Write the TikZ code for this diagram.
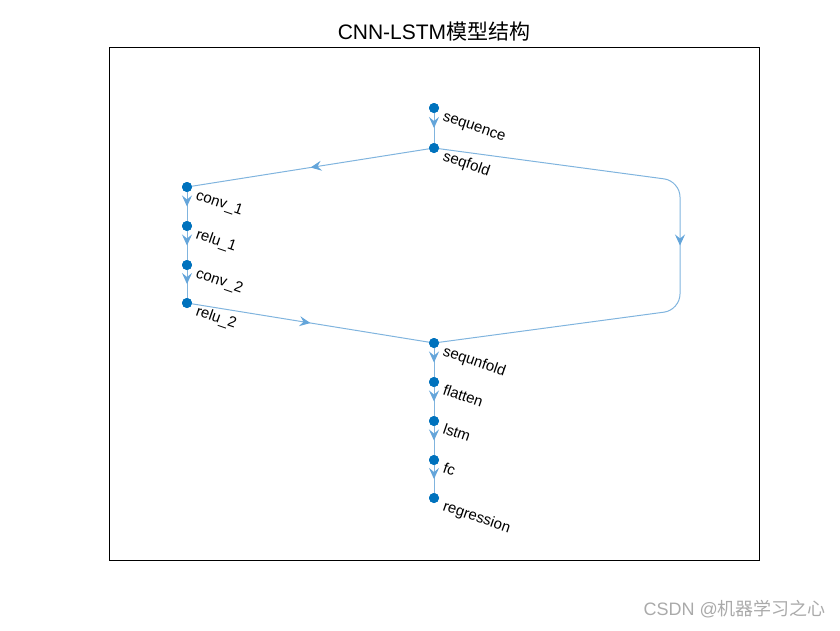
\documentclass[tikz,border=0pt]{standalone}
\usepackage{fontspec}
\setmainfont{Liberation Sans}
\newfontfamily\cjk{Noto Sans CJK SC}
\usepackage{xcolor}
\usetikzlibrary{arrows.meta, decorations.markings}
\definecolor{matblue}{RGB}{0, 114, 189}
\definecolor{edgeblue}{RGB}{128, 180, 222}
\definecolor{tipblue}{RGB}{100, 165, 218}
\definecolor{markgray}{RGB}{170, 170, 170}

\begin{document}
\begin{tikzpicture}[x=1pt, y=-1pt,
    layer/.style={circle, fill=matblue, inner sep=0pt, minimum size=10pt},
    tag/.style={anchor=base west, rotate=-19, inner sep=0pt, font=\fontsize{15}{15}\selectfont},
    flow/.style={draw=edgeblue, line width=1pt, postaction={decorate},
        decoration={markings, mark=at position 0.5 with {\arrow[tipblue]{Stealth[length=11pt, width=10pt, inset=4pt]}}}}
]
    \useasboundingbox (0,0) rectangle (840,630);
    \draw[line width=0.8pt] (109,47) rectangle (759,560);
    \node (title) at (434,32) {\fontsize{21}{21}\selectfont CNN-LSTM\cjk{模型结构}};
    \node[anchor=east, text=markgray, inner sep=0pt] (mark) at (826,609) {\fontsize{18}{18}\selectfont CSDN @\cjk{机器学习之心}};

    % layers
    \node[layer] (sequence) at (434,108) {};
    \node[layer] (seqfold) at (434,148) {};
    \node[layer] (conv1) at (187,187) {};
    \node[layer] (relu1) at (187,226) {};
    \node[layer] (conv2) at (187,265) {};
    \node[layer] (relu2) at (187,303) {};
    \node[layer] (sequnfold) at (434,343) {};
    \node[layer] (flatten) at (434,382) {};
    \node[layer] (lstm) at (434,421) {};
    \node[layer] (fc) at (434,460) {};
    \node[layer] (regression) at (434,498) {};
    \coordinate (rtop) at (680,181);
    \coordinate (rbot) at (680,310);

    % edges
    \draw[flow] (sequence.center) -- (seqfold.center);
    \draw[flow] (seqfold.center) -- (conv1.center);
    \draw[flow] (conv1.center) -- (relu1.center);
    \draw[flow] (relu1.center) -- (conv2.center);
    \draw[flow] (conv2.center) -- (relu2.center);
    \draw[flow] (relu2.center) -- (sequnfold.center);
    \draw[flow, rounded corners=16pt] (seqfold.center) -- (rtop) -- (rbot) -- (sequnfold.center);
    \draw[flow] (sequnfold.center) -- (flatten.center);
    \draw[flow] (flatten.center) -- (lstm.center);
    \draw[flow] (lstm.center) -- (fc.center);
    \draw[flow] (fc.center) -- (regression.center);

    % redraw dots above edges
    \foreach \n in {sequence, seqfold, conv1, relu1, conv2, relu2, sequnfold, flatten, lstm, fc, regression}
        \fill[matblue] (\n) circle (5pt);

    % labels
    \node[tag] (t-sequence) at (442,120) {sequence};
    \node[tag] (t-seqfold) at (442,160) {seqfold};
    \node[tag] (t-conv1) at (195,199) {conv\_1};
    \node[tag] (t-relu1) at (195,238) {relu\_1};
    \node[tag] (t-conv2) at (195,277) {conv\_2};
    \node[tag] (t-relu2) at (195,315) {relu\_2};
    \node[tag] (t-sequnfold) at (442,355) {sequnfold};
    \node[tag] (t-flatten) at (442,394) {flatten};
    \node[tag] (t-lstm) at (442,433) {lstm};
    \node[tag] (t-fc) at (442,472) {fc};
    \node[tag] (t-regression) at (442,510) {regression};
\end{tikzpicture}
\end{document}
